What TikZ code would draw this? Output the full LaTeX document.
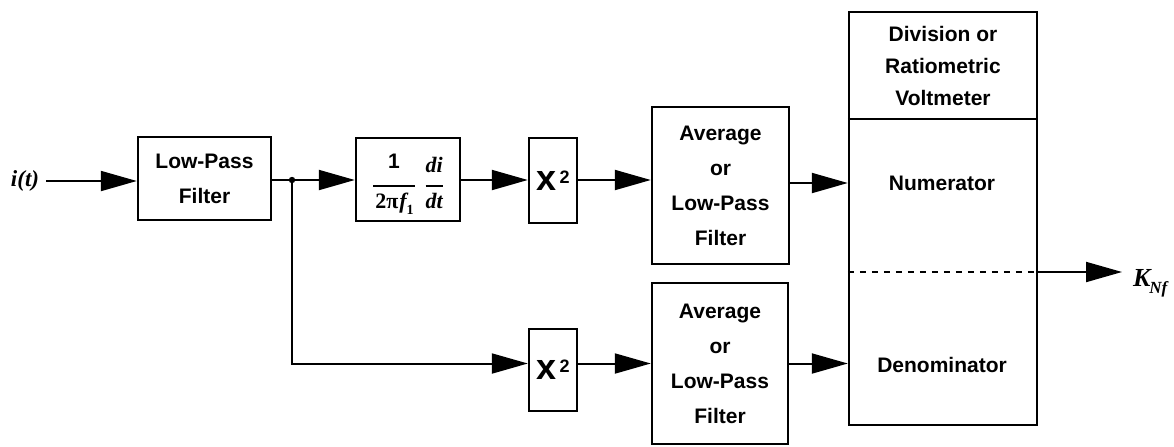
\documentclass[tikz,border=0pt]{standalone}
\usepackage{fontspec}
\setmainfont{Liberation Sans}
\newfontfamily\serifbi{Liberation Serif}
\usetikzlibrary{arrows.meta}

\begin{document}
\begin{tikzpicture}[x=0.5pt,y=-0.5pt,
  box/.style={draw,line width=1.2pt,inner sep=0pt,align=center,font=\bfseries\fontsize{10.5}{17.5}\selectfont},
  txt/.style={font=\bfseries\fontsize{10.5}{16}\selectfont,align=center},
  lbl/.style={font=\serifbi\bfseries\itshape\fontsize{11.5}{12}\selectfont},
  arr/.style={line width=1pt,-{Triangle[length=18pt,width=10pt]}}]
\useasboundingbox (0,0) rectangle (1174,446);
% blocks
\node[lbl] (it) at (25,181) {i(t)};
\node[box,minimum width=66.5pt,minimum height=41.5pt] (lpf) at (204.5,178.5) {Low-Pass\\Filter};
\node[box,minimum width=52pt,minimum height=41.5pt] (dif) at (408,179.5)
  {$\displaystyle{\hbox{\strut 1}\above1pt\hbox{\kern1pt\serifbi\fontsize{11}{12}\selectfont 2π\kern0.5pt\itshape f}_{\hbox{\serifbi\fontsize{7}{7}\selectfont 1}}}
   \;{\hbox{\serifbi\itshape\fontsize{11}{12}\selectfont di\strut}\above1pt\hbox{\serifbi\itshape\fontsize{11}{12}\selectfont dt}}$};
\node[box,minimum width=24pt,minimum height=42.5pt] (sqa) at (553,180.5)
  {{\fontsize{18}{18}\selectfont x}\hspace{1.5pt}\raisebox{3.4pt}{\fontsize{9}{9}\selectfont 2}};
\node[box,minimum width=68.5pt,minimum height=78.5pt] (ava) at (720.5,185.5) {Average\\or\\Low-Pass\\Filter};
\node[box,minimum width=24pt,minimum height=41pt] (sqb) at (553,370)
  {{\fontsize{18}{18}\selectfont x}\hspace{1.5pt}\raisebox{3.4pt}{\fontsize{9}{9}\selectfont 2}};
\node[box,minimum width=68pt,minimum height=80.5pt] (avb) at (720,363.5) {Average\\or\\Low-Pass\\Filter};
\node[box,minimum width=94pt,minimum height=206.5pt] (vm) at (943,218.5) {};
\node[txt] (hdr) at (943,65.5) {Division or\\Ratiometric\\Voltmeter};
\node[txt] (num) at (942,183) {Numerator};
\node[txt] (den) at (942,365) {Denominator};
\coordinate (dot) at (292,180);
\coordinate (out) at (1122,272);
\node[lbl,anchor=west,font=\serifbi\bfseries\itshape\fontsize{13}{13}\selectfont] (knf) at (1126,283) {K\kern-0.5pt\raisebox{-3.5pt}{\fontsize{8.5}{8.5}\selectfont Nf}};
% divider lines
\draw[line width=1.2pt] (vm.west |- 0,119) -- (vm.east |- 0,119);
\draw[line width=0.8pt,dashed] (vm.west |- out) -- (vm.east |- out);
% signal path
\draw[arr] (it.east) -- (lpf.west |- it.east);
\draw[line width=1pt] (lpf.east |- dot) -- (dot);
\fill (dot) circle (1.6pt);
\draw[arr] (dot) -- (dif.west |- dot);
\draw[arr] (dif.east |- dot) -- (sqa.west |- dot);
\draw[arr] (sqa.east |- dot) -- (ava.west |- dot);
\draw[arr] (ava.east |- num) -- (vm.west |- num);
\draw[arr] (dot) |- (sqb.west |- avb.west);
\draw[arr] (sqb.east |- avb.west) -- (avb.west);
\draw[arr] (avb.east) -- (vm.west |- avb.east);
\draw[arr] (vm.east |- out) -- (out);
\end{tikzpicture}
\end{document}
